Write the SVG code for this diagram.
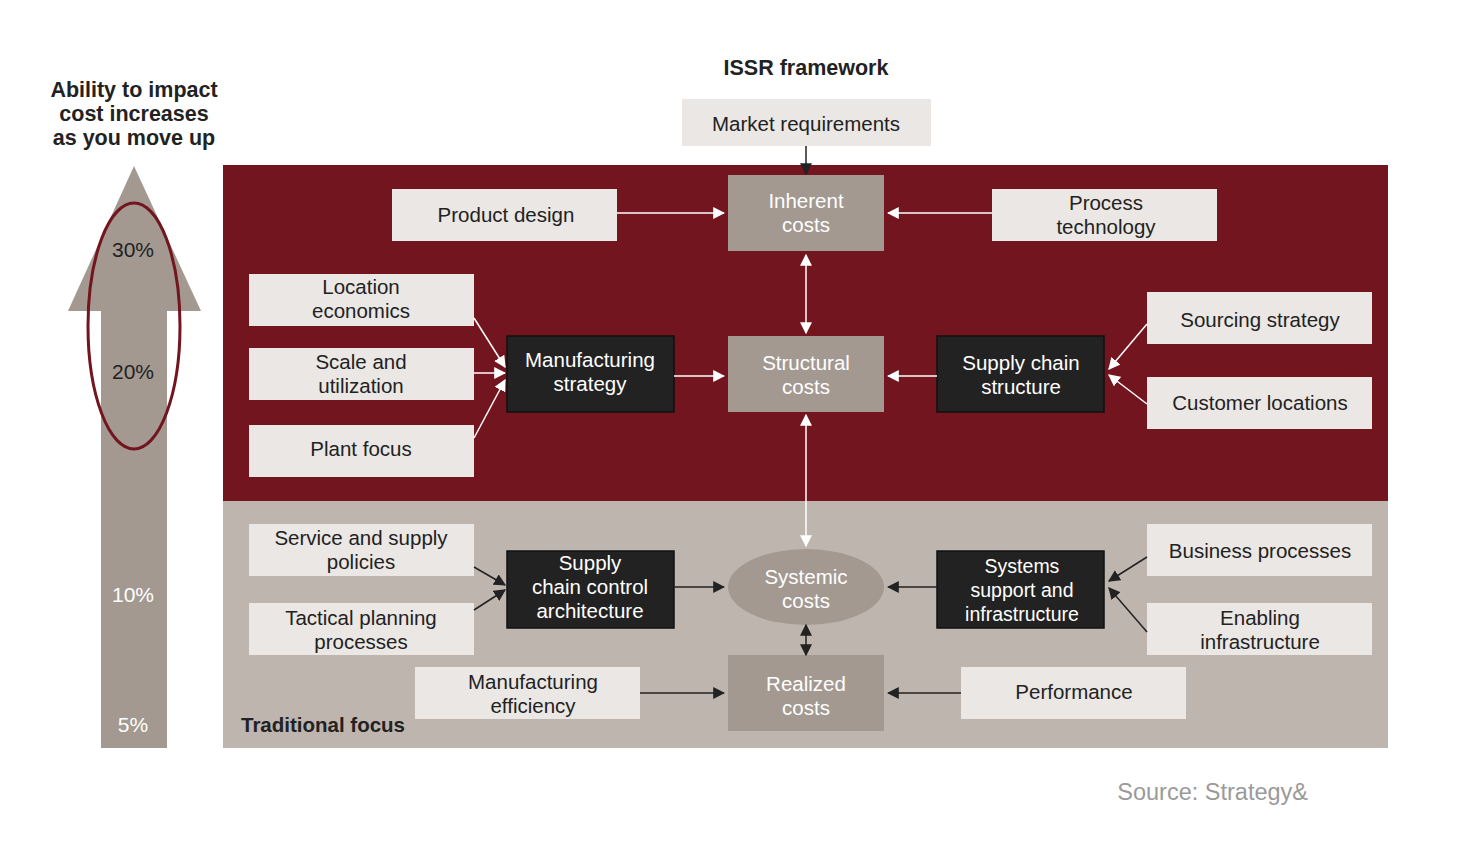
<svg xmlns="http://www.w3.org/2000/svg" width="1480" height="842" viewBox="0 0 1480 842">
<defs>
<marker id="aw" viewBox="0 0 10 10" refX="9" refY="5" markerWidth="12" markerHeight="12" markerUnits="userSpaceOnUse" orient="auto-start-reverse"><path d="M0,0 L10,5 L0,10 z" fill="#ffffff"/></marker>
<marker id="ab" viewBox="0 0 10 10" refX="9" refY="5" markerWidth="12" markerHeight="12" markerUnits="userSpaceOnUse" orient="auto-start-reverse"><path d="M0,0 L10,5 L0,10 z" fill="#222222"/></marker>
<style>
text{font-family:"Liberation Sans",Arial,sans-serif;text-anchor:middle}
.lt{fill:#ebe7e4}
.cost{fill:#a39991}
.dk{fill:#222222;stroke:#111111;stroke-width:1.5}
.t{font-size:20.5px;fill:#222222}
.w{font-size:20.5px;fill:#ffffff}
.p{font-size:21px}
.b{font-weight:bold}
.cw{stroke:#ffffff;stroke-width:1.5;fill:none;marker-end:url(#aw)}
.cb{stroke:#222222;stroke-width:1.5;fill:none;marker-end:url(#ab)}
</style>
</defs>
<rect width="1480" height="842" fill="#ffffff"/>

<g id="panels">
<rect x="223" y="165" width="1165" height="336" fill="#73151e"/>
<rect x="223" y="501" width="1165" height="247" fill="#bfb5af"/>
</g>

<g id="impact-arrow">
<path d="M101,748 L101,311 L68,311 L134,166 L201,311 L167,311 L167,748 Z" fill="#a39991"/>
<ellipse cx="134" cy="326" rx="46" ry="123" fill="none" stroke="#73151e" stroke-width="3"/>
<text x="133" y="257" class="t p">30%</text>
<text x="133" y="379" class="t p">20%</text>
<text x="133" y="602" class="w p">10%</text>
<text x="133" y="732" class="w p">5%</text>
<text x="134" y="97" class="t b" style="font-size:21.5px">Ability to impact</text>
<text x="134" y="121" class="t b" style="font-size:21.5px">cost increases</text>
<text x="134" y="145" class="t b" style="font-size:21.5px">as you move up</text>
</g>

<g id="title"><text x="806" y="75" class="t b" style="font-size:21.5px">ISSR framework</text></g>

<g id="market"><rect x="682" y="99" width="249" height="47" class="lt"/><text x="806" y="131" class="t">Market requirements</text></g>
<g id="inherent"><rect x="728" y="175" width="156" height="76" class="cost"/><text x="806" y="208" class="w">Inherent</text><text x="806" y="232" class="w">costs</text></g>
<g id="product"><rect x="392" y="189" width="225" height="52" class="lt"/><text x="506" y="222" class="t">Product design</text></g>
<g id="process"><rect x="992" y="189" width="225" height="52" class="lt"/><text x="1106" y="210" class="t">Process</text><text x="1106" y="234" class="t">technology</text></g>

<g id="location"><rect x="249" y="274" width="225" height="52" class="lt"/><text x="361" y="294" class="t">Location</text><text x="361" y="318" class="t">economics</text></g>
<g id="scale"><rect x="249" y="348" width="225" height="52" class="lt"/><text x="361" y="369" class="t">Scale and</text><text x="361" y="393" class="t">utilization</text></g>
<g id="plant"><rect x="249" y="425" width="225" height="52" class="lt"/><text x="361" y="456" class="t">Plant focus</text></g>
<g id="manuf"><rect x="507" y="336" width="167" height="76" class="dk"/><text x="590" y="367" class="w">Manufacturing</text><text x="590" y="391" class="w">strategy</text></g>
<g id="structural"><rect x="728" y="336" width="156" height="76" class="cost"/><text x="806" y="370" class="w">Structural</text><text x="806" y="394" class="w">costs</text></g>
<g id="scs"><rect x="937" y="336" width="167" height="76" class="dk"/><text x="1021" y="370" class="w">Supply chain</text><text x="1021" y="394" class="w">structure</text></g>
<g id="sourcing"><rect x="1147" y="292" width="225" height="52" class="lt"/><text x="1260" y="327" class="t">Sourcing strategy</text></g>
<g id="customer"><rect x="1147" y="377" width="225" height="52" class="lt"/><text x="1260" y="410" class="t">Customer locations</text></g>

<g id="service"><rect x="249" y="524" width="225" height="52" class="lt"/><text x="361" y="545" class="t">Service and supply</text><text x="361" y="569" class="t">policies</text></g>
<g id="tactical"><rect x="249" y="603" width="225" height="52" class="lt"/><text x="361" y="625" class="t">Tactical planning</text><text x="361" y="649" class="t">processes</text></g>
<g id="scca"><rect x="507" y="551" width="167" height="77" class="dk"/><text x="590" y="570" class="w">Supply</text><text x="590" y="594" class="w">chain control</text><text x="590" y="618" class="w">architecture</text></g>
<g id="systemic"><ellipse cx="806" cy="587" rx="78" ry="38" class="cost"/><text x="806" y="584" class="w">Systemic</text><text x="806" y="608" class="w">costs</text></g>
<g id="ssi"><rect x="937" y="551" width="167" height="77" class="dk"/><text x="1022" y="573" class="w" style="font-size:19.5px">Systems</text><text x="1022" y="597" class="w" style="font-size:19.5px">support and</text><text x="1022" y="621" class="w" style="font-size:19.5px">infrastructure</text></g>
<g id="business"><rect x="1147" y="524" width="225" height="52" class="lt"/><text x="1260" y="558" class="t">Business processes</text></g>
<g id="enabling"><rect x="1147" y="603" width="225" height="52" class="lt"/><text x="1260" y="625" class="t">Enabling</text><text x="1260" y="649" class="t">infrastructure</text></g>
<g id="mfgeff"><rect x="415" y="667" width="225" height="52" class="lt"/><text x="533" y="689" class="t">Manufacturing</text><text x="533" y="713" class="t">efficiency</text></g>
<g id="realized"><rect x="728" y="655" width="156" height="76" class="cost"/><text x="806" y="691" class="w">Realized</text><text x="806" y="715" class="w">costs</text></g>
<g id="performance"><rect x="961" y="667" width="225" height="52" class="lt"/><text x="1074" y="699" class="t">Performance</text></g>
<g id="traditional"><text x="241" y="732" class="t b" style="text-anchor:start">Traditional focus</text></g>

<g id="connectors">
<line x1="806" y1="146" x2="806" y2="174" class="cb"/>
<line x1="617" y1="213" x2="724" y2="213" class="cw"/>
<line x1="992" y1="213" x2="888" y2="213" class="cw"/>
<line x1="806" y1="255" x2="806" y2="333" class="cw" style="marker-start:url(#aw)"/>
<line x1="474" y1="318" x2="505" y2="367" class="cw"/>
<line x1="474" y1="373" x2="505" y2="373" class="cw"/>
<line x1="474" y1="438" x2="505" y2="380" class="cw"/>
<line x1="674" y1="376" x2="724" y2="376" class="cw"/>
<line x1="937" y1="376" x2="888" y2="376" class="cw"/>
<line x1="1147" y1="324" x2="1109" y2="369" class="cw"/>
<line x1="1147" y1="404" x2="1109" y2="375" class="cw"/>
<line x1="806" y1="415" x2="806" y2="546" class="cw" style="marker-start:url(#aw)"/>
<line x1="474" y1="567" x2="505" y2="585" class="cb"/>
<line x1="474" y1="610" x2="505" y2="590" class="cb"/>
<line x1="674" y1="587" x2="724" y2="587" class="cb"/>
<line x1="937" y1="587" x2="888" y2="587" class="cb"/>
<line x1="1147" y1="557" x2="1109" y2="581" class="cb"/>
<line x1="1147" y1="632" x2="1109" y2="588" class="cb"/>
<line x1="806" y1="625" x2="806" y2="655" class="cb" style="marker-start:url(#ab)"/>
<line x1="640" y1="693" x2="724" y2="693" class="cb"/>
<line x1="961" y1="693" x2="888" y2="693" class="cb"/>
</g>

<g id="source"><text x="1308" y="800" style="text-anchor:end;font-size:23.5px;fill:#9a9a9a">Source: Strategy&amp;</text></g>
</svg>
